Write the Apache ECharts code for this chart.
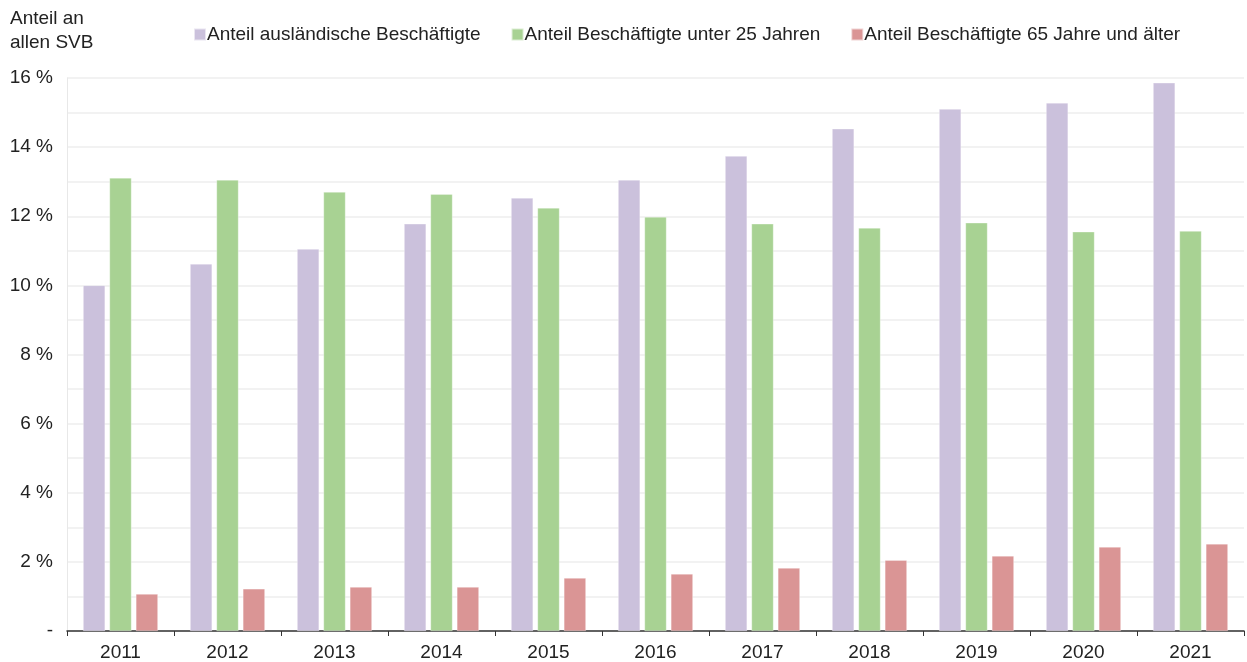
<!DOCTYPE html>
<html><head><meta charset="utf-8">
<script src="https://cdn.jsdelivr.net/npm/echarts@6/dist/echarts.min.js"></script>
<style>html,body{margin:0;padding:0;background:#fff}#c{width:1247px;height:662px}</style>
</head><body><div id="c"></div>
<script>
const years = ['2011','2012','2013','2014','2015','2016','2017','2018','2019','2020','2021'];
const seriesNames = ['Anteil ausländische Beschäftigte','Anteil Beschäftigte unter 25 Jahren','Anteil Beschäftigte 65 Jahre und älter'];
const auslaender = [10.0,10.62,11.05,11.78,12.53,13.05,13.74,14.53,15.10,15.28,15.86];
const unter25 = [13.11,13.05,12.70,12.64,12.24,11.98,11.78,11.66,11.81,11.55,11.57];
const ab65 = [1.07,1.22,1.27,1.27,1.53,1.65,1.82,2.05,2.17,2.43,2.52];
const colors = ['#cbc1dc','#a8d293','#da9595'];
const font = 'Liberation Sans, Arial, sans-serif';

const chart = echarts.init(document.getElementById('c'));
const mk = (name, data, color) => ({
  name, type:'bar', data, barWidth:22, barGap:'20%',
  itemStyle:{color, borderColor:'rgba(255,255,255,0.6)', borderWidth:0.5}
});
chart.setOption({
  animation:false,
  textStyle:{fontFamily:font},
  graphic:[{type:'text', left:10, top:7, style:{text:'Anteil an\nallen SVB', font:'19px '+font, fill:'#222', lineHeight:24}}],
  legend:{top:20, left:188, itemWidth:12, itemHeight:12, itemGap:30, icon:'rect',
    textStyle:{fontSize:19, color:'#222', fontFamily:font, padding:[0,0,0,-4]}},
  grid:{left:67, right:3, top:78, bottom:31},
  xAxis:{type:'category', data:years,
    axisLine:{lineStyle:{color:'#333', width:1.5}},
    axisTick:{show:true, length:5, lineStyle:{color:'#333'}},
    axisLabel:{fontSize:19, color:'#222', margin:12, fontFamily:font}},
  yAxis:{type:'value', min:0, max:16, interval:1,
    axisLine:{show:true, lineStyle:{color:'#e8e8e8'}},
    axisTick:{show:false},
    splitLine:{lineStyle:{color:'#eeeeee', width:1.5}},
    axisLabel:{fontSize:19, color:'#222', margin:14, fontFamily:font,
      formatter:v => v===0 ? '-' : (v%2===0 ? v+' %' : '')}},
  series:[mk(seriesNames[0],auslaender,colors[0]), mk(seriesNames[1],unter25,colors[1]), mk(seriesNames[2],ab65,colors[2])]
});
</script></body></html>
